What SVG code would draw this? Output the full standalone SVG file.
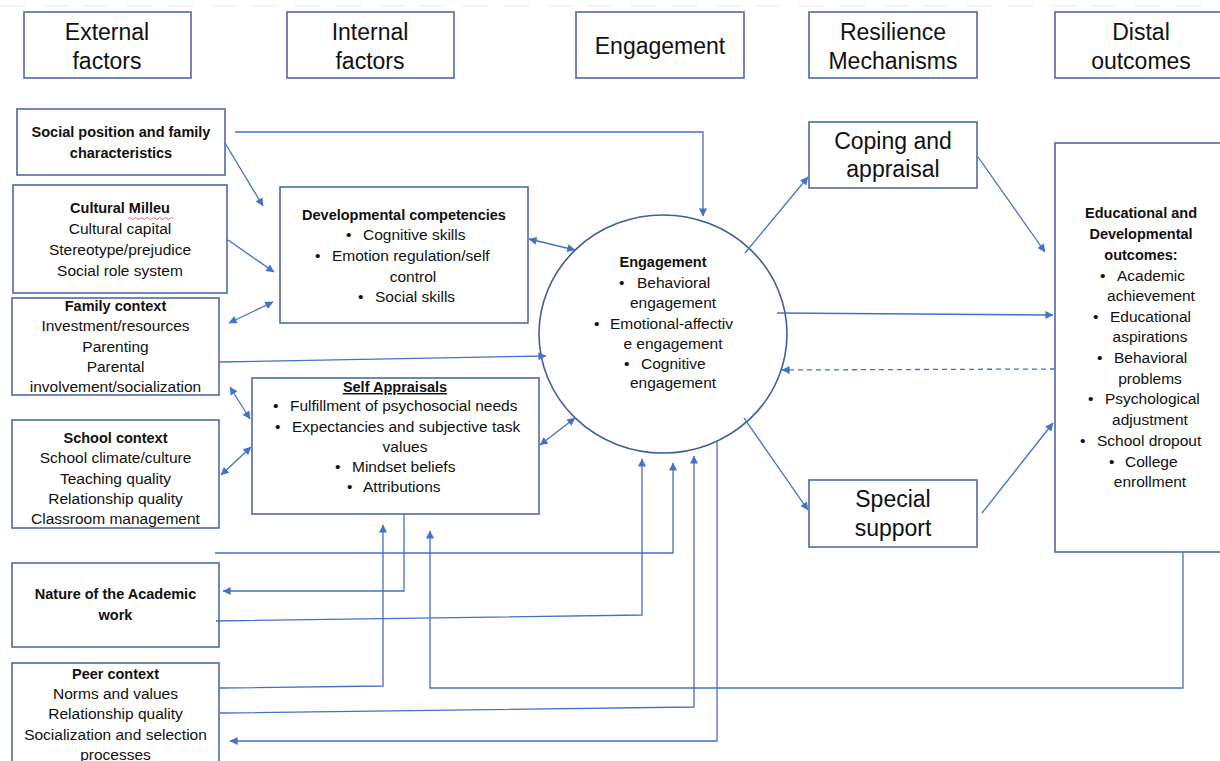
<svg xmlns="http://www.w3.org/2000/svg" width="1220" height="761" viewBox="0 0 1220 761">
<defs>
<marker id="ah" viewBox="0 0 10 10" refX="9.5" refY="5" markerWidth="10" markerHeight="8" markerUnits="userSpaceOnUse" orient="auto-start-reverse"><path d="M0,0 L10,5 L0,10 z" fill="#4472C4"/></marker>
</defs>
<style>
.box{fill:#fff;stroke:#4d6aa6;stroke-width:1.6}
.c{fill:none;stroke:#4472C4;stroke-width:1.3}
.d{stroke-dasharray:5,4}
text{font-family:"Liberation Sans",Arial,sans-serif;fill:#111}
.h{font-size:23px;text-anchor:middle}
.t{font-size:15.5px}
.m{text-anchor:middle}
.b{font-weight:bold;font-size:14.5px}
</style>
<rect width="1220" height="761" fill="#fff"/>
<line x1="0" y1="6" x2="1220" y2="6" stroke="#ececec" stroke-width="1.2" stroke-dasharray="26 16"/>

<g id="hdr-external"><rect class="box" x="24" y="12" width="167" height="66"/><text class="h" x="107" y="40">External</text><text class="h" x="107" y="69">factors</text></g>
<g id="hdr-internal"><rect class="box" x="287" y="12" width="167" height="66"/><text class="h" x="370" y="40">Internal</text><text class="h" x="370" y="69">factors</text></g>
<g id="hdr-engagement"><rect class="box" x="576" y="12" width="168" height="66"/><text class="h" x="660" y="54">Engagement</text></g>
<g id="hdr-resilience"><rect class="box" x="809" y="12" width="168" height="66"/><text class="h" x="893" y="40">Resilience</text><text class="h" x="893" y="69">Mechanisms</text></g>
<g id="hdr-distal"><rect class="box" x="1055" y="12" width="172" height="66"/><text class="h" x="1141" y="40">Distal</text><text class="h" x="1141" y="69">outcomes</text></g>

<g id="social"><rect class="box" x="17" y="109" width="208" height="66"/>
<text class="b m" x="121" y="137">Social position and family</text><text class="b m" x="121" y="158">characteristics</text></g>

<g id="cultural"><rect class="box" x="13" y="185" width="214" height="108"/>
<text class="b m" x="120" y="213">Cultural Milleu</text>
<path d="M128,218.5 q1.5,-2 3,0 t3,0 t3,0 t3,0 t3,0 t3,0 t3,0 t3,0 t3,0 t3,0 t3,0 t3,0 t3,0 t3,0 t3,0" fill="none" stroke="#e04040" stroke-width="0.8"/>
<text class="t m" x="120" y="234">Cultural capital</text><text class="t m" x="120" y="255">Stereotype/prejudice</text><text class="t m" x="120" y="276">Social role system</text></g>

<g id="family"><rect class="box" x="12" y="298" width="207" height="97"/>
<text class="b m" x="115.5" y="311">Family context</text><text class="t m" x="115.5" y="331">Investment/resources</text><text class="t m" x="115.5" y="352">Parenting</text><text class="t m" x="115.5" y="372">Parental</text><text class="t m" x="115.5" y="392">involvement/socialization</text></g>

<g id="school"><rect class="box" x="12" y="420" width="207" height="108"/>
<text class="b m" x="115.5" y="443">School context</text><text class="t m" x="115.5" y="463">School climate/culture</text><text class="t m" x="115.5" y="484">Teaching quality</text><text class="t m" x="115.5" y="504">Relationship quality</text><text class="t m" x="115.5" y="524">Classroom management</text></g>

<g id="nature"><rect class="box" x="12" y="563" width="207" height="84"/>
<text class="b m" x="115.5" y="599">Nature of the Academic</text><text class="b m" x="115.5" y="620">work</text></g>

<g id="peer"><rect class="box" x="12" y="663" width="207" height="110"/>
<text class="b m" x="115.5" y="679">Peer context</text><text class="t m" x="115.5" y="699">Norms and values</text><text class="t m" x="115.5" y="719">Relationship quality</text><text class="t m" x="115.5" y="740">Socialization and selection</text><text class="t m" x="115.5" y="760">processes</text></g>

<g id="developmental"><rect class="box" x="280" y="187" width="248" height="136"/>
<text class="b m" x="404" y="220">Developmental competencies</text>
<text class="t" y="240"><tspan x="346">•</tspan><tspan x="363">Cognitive skills</tspan></text>
<text class="t" y="261"><tspan x="315">•</tspan><tspan x="332">Emotion regulation/self</tspan></text>
<text class="t m" x="413" y="282">control</text>
<text class="t" y="302"><tspan x="358">•</tspan><tspan x="375">Social skills</tspan></text></g>

<g id="selfappraisals"><rect class="box" x="252" y="378" width="287" height="136"/>
<text class="b m" x="395" y="392" text-decoration="underline">Self Appraisals</text>
<text class="t" y="411"><tspan x="273">•</tspan><tspan x="290">Fulfillment of psychosocial needs</tspan></text>
<text class="t" y="432"><tspan x="275">•</tspan><tspan x="292">Expectancies and subjective task</tspan></text>
<text class="t m" x="405" y="452">values</text>
<text class="t" y="472"><tspan x="335">•</tspan><tspan x="352">Mindset beliefs</tspan></text>
<text class="t" y="492"><tspan x="347">•</tspan><tspan x="363">Attributions</tspan></text></g>

<g id="engagement"><ellipse cx="663" cy="334" rx="124" ry="119" fill="#fff" stroke="#3f5e9a" stroke-width="1.6"/>
<text class="b m" x="663" y="267">Engagement</text>
<text class="t" y="288"><tspan x="619">•</tspan><tspan x="637">Behavioral</tspan></text>
<text class="t m" x="673" y="308">engagement</text>
<text class="t" y="329"><tspan x="594">•</tspan><tspan x="610">Emotional-affectiv</tspan></text>
<text class="t m" x="673" y="349">e engagement</text>
<text class="t" y="369"><tspan x="624">•</tspan><tspan x="641">Cognitive</tspan></text>
<text class="t m" x="673" y="388">engagement</text></g>

<g id="coping"><rect class="box" x="809" y="122" width="168" height="66"/>
<text class="h" x="893" y="149">Coping and</text><text class="h" x="893" y="177">appraisal</text></g>

<g id="special"><rect class="box" x="809" y="480" width="168" height="67"/>
<text class="h" x="893" y="507">Special</text><text class="h" x="893" y="536">support</text></g>

<g id="educational"><rect class="box" x="1055" y="143" width="175" height="409"/>
<text class="b m" x="1141" y="218">Educational and</text>
<text class="b m" x="1141" y="239">Developmental</text>
<text class="b m" x="1141" y="260">outcomes:</text>
<text class="t" y="281"><tspan x="1100">•</tspan><tspan x="1117">Academic</tspan></text>
<text class="t m" x="1151" y="301">achievement</text>
<text class="t" y="322"><tspan x="1093">•</tspan><tspan x="1110">Educational</tspan></text>
<text class="t m" x="1150" y="342">aspirations</text>
<text class="t" y="363"><tspan x="1097">•</tspan><tspan x="1114">Behavioral</tspan></text>
<text class="t m" x="1150" y="384">problems</text>
<text class="t" y="404"><tspan x="1088">•</tspan><tspan x="1105">Psychological</tspan></text>
<text class="t m" x="1150" y="425">adjustment</text>
<text class="t" y="446"><tspan x="1080">•</tspan><tspan x="1097">School dropout</tspan></text>
<text class="t" y="467"><tspan x="1109">•</tspan><tspan x="1125">College</tspan></text>
<text class="t m" x="1150" y="487">enrollment</text></g>

<g id="connectors">
<path class="c" d="M225,143 L263,206" marker-end="url(#ah)"/>
<path class="c" d="M235,132 H703 V216" marker-end="url(#ah)"/>
<path class="c" d="M228,240 L274,272" marker-end="url(#ah)"/>
<path class="c" d="M229,323 L273,302" marker-start="url(#ah)" marker-end="url(#ah)"/>
<path class="c" d="M529,239 L575,250" marker-start="url(#ah)" marker-end="url(#ah)"/>
<path class="c" d="M219,362 L546,356" marker-end="url(#ah)"/>
<path class="c" d="M230,387 L250,419" marker-start="url(#ah)" marker-end="url(#ah)"/>
<path class="c" d="M221,475 L251,447" marker-start="url(#ah)" marker-end="url(#ah)"/>
<path class="c" d="M540,445 L575,418" marker-start="url(#ah)" marker-end="url(#ah)"/>
<path class="c" d="M745,253 L808,177" marker-end="url(#ah)"/>
<path class="c" d="M978,157 L1045,252" marker-end="url(#ah)"/>
<path class="c" d="M777,313 L1053,315" marker-end="url(#ah)"/>
<path class="c d" d="M1055,369 L782,370" marker-end="url(#ah)"/>
<path class="c" d="M744,418 L808,510" marker-end="url(#ah)"/>
<path class="c" d="M982,513 L1053,423" marker-end="url(#ah)"/>
<path class="c" d="M215,553 H673 V463" marker-end="url(#ah)"/>
<path class="c" d="M404,514 V591 H223" marker-end="url(#ah)"/>
<path class="c" d="M216,621 L642,615 V459" marker-end="url(#ah)"/>
<path class="c" d="M220,688 L383,686 V525" marker-end="url(#ah)"/>
<path class="c" d="M1183,552 V688 H430 V531" marker-end="url(#ah)"/>
<path class="c" d="M220,713 L694,707 V456" marker-end="url(#ah)"/>
<path class="c" d="M717,441 V741 H230" marker-end="url(#ah)"/>
</g>
</svg>
